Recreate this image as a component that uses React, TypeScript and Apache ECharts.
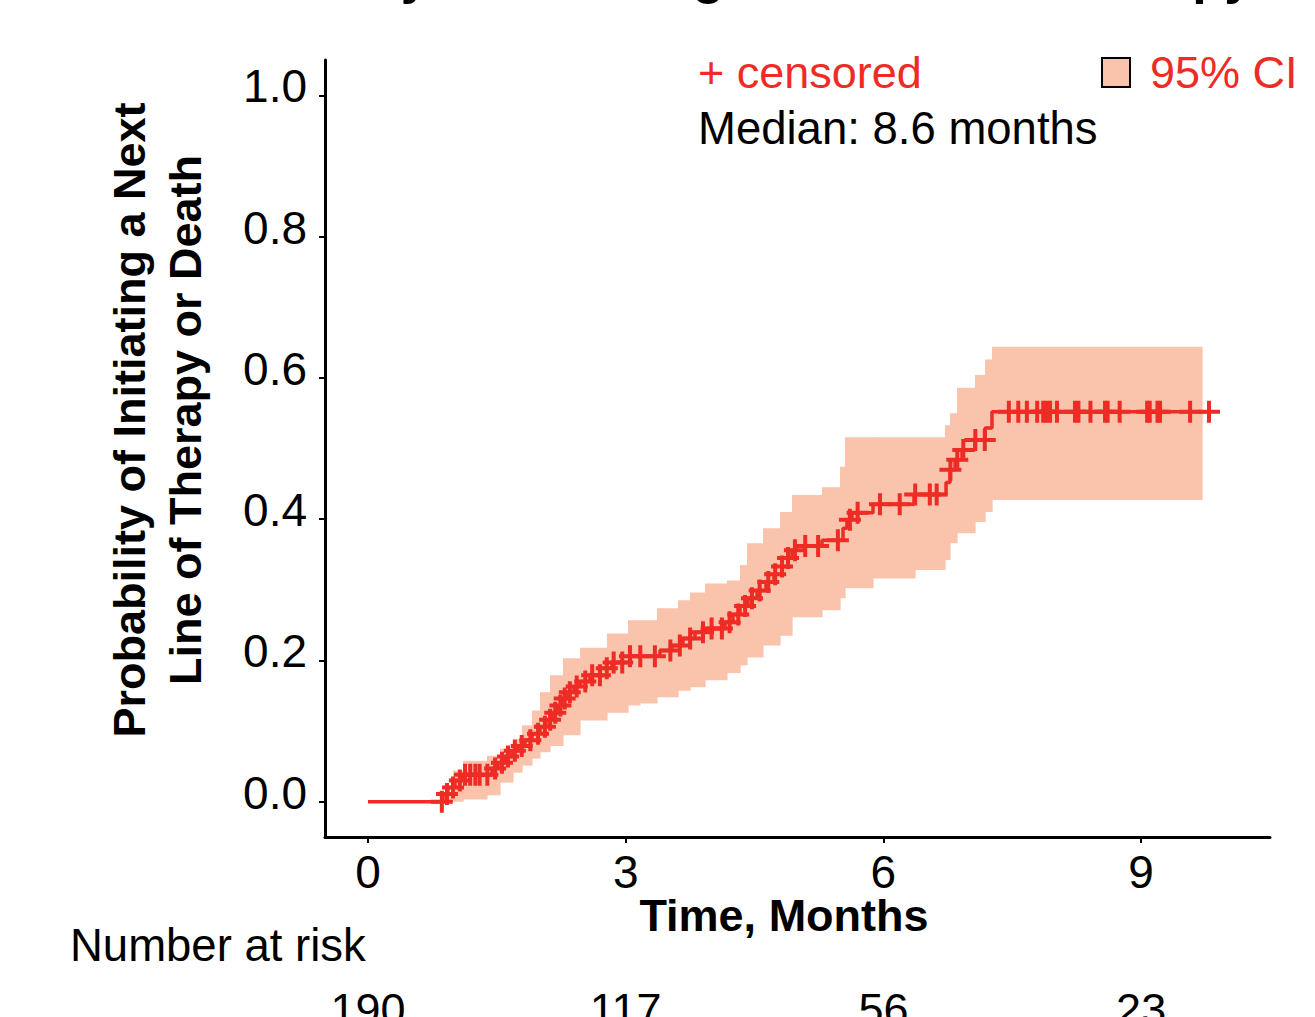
import React, { useEffect, useRef } from "react";
import * as echarts from "echarts";

const RED = "#EE2B24";
const CI_FILL = "#FAC3AC";
const FONT = '"Liberation Sans", Arial, Helvetica, sans-serif';

// Kaplan-Meier cumulative incidence: event times (months) and probability after each event
const eventTimes = [
  0, 0.873, 0.931, 1.013, 1.094, 1.444, 1.513, 1.595, 1.676, 1.746, 1.828, 1.909,
  2.002, 2.072, 2.142, 2.212, 2.27, 2.328, 2.398, 2.468, 2.584, 2.701, 2.841, 3.05,
  3.399, 3.539, 3.667, 3.807, 3.923, 4.156, 4.249, 4.331, 4.424, 4.529, 4.633, 4.726,
  4.82, 4.889, 4.936, 4.983, 5.285, 5.53, 5.576, 5.634, 5.879, 6.356, 6.729, 6.775,
  6.834, 6.915, 7.066, 7.183, 7.264,
];
const eventProbs = [
  0, 0.011, 0.02, 0.03, 0.038, 0.047, 0.055, 0.064, 0.072, 0.079, 0.087, 0.096,
  0.106, 0.116, 0.126, 0.136, 0.146, 0.155, 0.163, 0.17, 0.179, 0.189, 0.197, 0.206,
  0.214, 0.221, 0.231, 0.24, 0.245, 0.254, 0.265, 0.277, 0.288, 0.299, 0.311, 0.322,
  0.333, 0.345, 0.356, 0.362, 0.37, 0.387, 0.399, 0.409, 0.421, 0.435, 0.452, 0.47,
  0.484, 0.498, 0.512, 0.529, 0.552,
];
const lastFollowUp = 9.79;

// censoring times (months)
const censorTimes = [
  0.86, 0.92, 0.99, 1.07, 1.13, 1.19, 1.25, 1.3, 1.39, 1.48, 1.56, 1.63, 1.71, 1.79,
  1.89, 1.98, 2.06, 2.12, 2.18, 2.24, 2.29, 2.35, 2.43, 2.53, 2.61, 2.7, 2.78, 2.86,
  2.96, 3.05, 3.17, 3.34, 3.52, 3.63, 3.75, 3.9, 4.0, 4.12, 4.21, 4.31, 4.39, 4.47,
  4.56, 4.66, 4.74, 4.82, 4.89, 4.97, 5.09, 5.24, 5.47, 5.61, 5.7, 5.96, 6.19, 6.37,
  6.54, 6.62, 6.78, 6.86, 6.93, 7.07, 7.18, 7.46, 7.57, 7.67, 7.79, 7.86, 7.9, 7.94,
  8.02, 8.23, 8.27, 8.41, 8.58, 8.61, 8.75, 9.07, 9.1, 9.19, 9.22, 9.57, 9.79,
];

// 95% CI band: interval starts, lower and upper bounds
const bandStarts = [
  0.838, 0.99, 1.106, 1.385, 1.537, 1.688, 1.793, 1.909, 2.002, 2.119, 2.27, 2.468,
  2.782, 3.027, 3.166, 3.364, 3.609, 3.749, 3.923, 4.179, 4.331, 4.412, 4.598, 4.796,
  4.936, 5.285, 5.495, 5.553, 5.879, 6.368, 6.717, 6.775, 6.857, 7.066, 7.183, 7.264,
];
const bandEnd = 9.709;
const bandLower = [
  0, 0, 0.003, 0.009, 0.027, 0.041, 0.051, 0.061, 0.07, 0.079, 0.094, 0.115, 0.126,
  0.136, 0.139, 0.148, 0.157, 0.162, 0.172, 0.182, 0.193, 0.204, 0.221, 0.235, 0.261,
  0.271, 0.288, 0.302, 0.316, 0.328, 0.342, 0.366, 0.38, 0.396, 0.41, 0.427,
];
const bandUpper = [
  0.013, 0.044, 0.058, 0.065, 0.075, 0.089, 0.108, 0.129, 0.155, 0.179, 0.203, 0.218,
  0.238, 0.257, 0.257, 0.274, 0.285, 0.296, 0.309, 0.313, 0.335, 0.366, 0.387, 0.41,
  0.434, 0.445, 0.474, 0.516, 0.516, 0.516, 0.533, 0.55, 0.586, 0.604, 0.626, 0.644,
];

const xTicks = [0, 3, 6, 9];
const yTicks = [0, 0.2, 0.4, 0.6, 0.8, 1.0];
const riskTimes = [0, 3, 6, 9];
const riskCounts = [190, 117, 56, 23];

const titleText = "Probability of Initiating Next Line of Therapy";
const yAxisTitle = "Probability of Initiating a Next\nLine of Therapy or Death";
const xAxisTitle = "Time, Months";
const medianText = "Median: 8.6 months";

function probAt(t: number): number {
  let p = 0;
  for (let i = 0; i < eventTimes.length; i++) {
    if (eventTimes[i] <= t) p = eventProbs[i];
  }
  return p;
}

const PLUS = "path://M9,0h4v9h9v4h-9v9h-4v-9h-9v-4h9z";

function txt(x: number, y: number, text: string, size: number, opts: any = {}) {
  const align = opts.align || "left";
  const v = opts.v || "middle";
  return {
    type: "text",
    x,
    y,
    rotation: opts.rotation || 0,
    silent: true,
    style: {
      text,
      fill: opts.fill || "#000",
      fontSize: size,
      fontWeight: opts.bold ? "bold" : "normal",
      fontFamily: FONT,
      align,
      textAlign: align,
      verticalAlign: v,
      textVerticalAlign: v,
      lineHeight: opts.lineHeight,
    },
  };
}

export default function App() {
  const ref = useRef<HTMLDivElement>(null);

  useEffect(() => {
    if (!ref.current) return;
    const chart = echarts.init(ref.current, null, { renderer: "svg" });

    const curve: number[][] = eventTimes.map((t, i) => [t, eventProbs[i]]);
    curve.push([lastFollowUp, eventProbs[eventProbs.length - 1]]);

    const censored = censorTimes.map((t) => [t, probAt(t)]);

    const band = bandStarts.map((s, i) => [
      s,
      i + 1 < bandStarts.length ? bandStarts[i + 1] : bandEnd,
      bandLower[i],
      bandUpper[i],
    ]);

    const axisText = { color: "#000", fontSize: 46, fontFamily: FONT };

    chart.setOption({
      animation: false,
      backgroundColor: "#fff",
      grid: { left: 325, right: 45, top: 60, bottom: 180, containLabel: false },
      xAxis: {
        type: "value",
        min: -0.5,
        max: 10.5,
        splitLine: { show: false },
        axisLine: { onZero: false, lineStyle: { color: "#000", width: 3 } },
        axisTick: { show: true, length: 6, customValues: xTicks, lineStyle: { color: "#000", width: 2 } },
        axisLabel: { ...axisText, margin: 12, customValues: xTicks },
      },
      yAxis: {
        type: "value",
        min: -0.05,
        max: 1.05,
        splitLine: { show: false },
        axisLine: { show: true, onZero: false, lineStyle: { color: "#000", width: 3 } },
        axisTick: { show: true, length: 6, customValues: yTicks, lineStyle: { color: "#000", width: 2 } },
        axisLabel: {
          ...axisText,
          margin: 18,
          verticalAlign: "bottom",
          lineHeight: 18,
          customValues: yTicks,
          formatter: (v: number) => v.toFixed(1),
        },
      },
      series: [
        {
          type: "custom",
          name: "95% CI",
          z: 1,
          silent: true,
          encode: { x: [0, 1], y: [2, 3] },
          data: band,
          renderItem: (params: any, api: any) => {
            const p0 = api.coord([api.value(0), api.value(3)]);
            const p1 = api.coord([api.value(1), api.value(2)]);
            return {
              type: "rect",
              shape: { x: p0[0], y: p0[1], width: p1[0] - p0[0] + 0.6, height: p1[1] - p0[1] },
              style: { fill: CI_FILL },
            };
          },
        },
        {
          type: "line",
          name: "KM",
          z: 3,
          step: "end",
          symbol: "none",
          data: curve,
          lineStyle: { color: RED, width: 3.5 },
          itemStyle: { color: RED },
        },
        {
          type: "scatter",
          name: "censored",
          z: 4,
          symbol: PLUS,
          symbolSize: 22,
          data: censored,
          itemStyle: { color: RED, opacity: 1 },
        },
      ],
    });

    const riskTexts = riskTimes.map((t, i) => {
      const px = chart.convertToPixel({ xAxisIndex: 0 }, t) as number;
      return txt(px, 1009, String(riskCounts[i]), 45, { align: "center" });
    });

    chart.setOption({
      graphic: [
        txt(707, -25, titleText, 52, { align: "center", bold: true }),
        txt(157, 420, yAxisTitle, 45, { align: "center", bold: true, rotation: Math.PI / 2, lineHeight: 56 }),
        txt(784, 915, xAxisTitle, 45, { align: "center", bold: true }),
        txt(70, 945, "Number at risk", 45.5),
        txt(698, 72, "+ censored", 45, { fill: RED }),
        txt(698, 128, medianText, 45.5),
        {
          type: "rect",
          silent: true,
          shape: { x: 1102, y: 58, width: 28, height: 29 },
          style: { fill: CI_FILL, stroke: "#000", lineWidth: 2 },
        },
        txt(1150, 72, "95% CI", 45, { fill: RED }),
        ...riskTexts,
      ],
    });

    return () => chart.dispose();
  }, []);

  return (
    <div
      ref={ref}
      style={{ position: "fixed", left: 0, top: 0, width: 1315, height: 1017, background: "#fff" }}
    />
  );
}
